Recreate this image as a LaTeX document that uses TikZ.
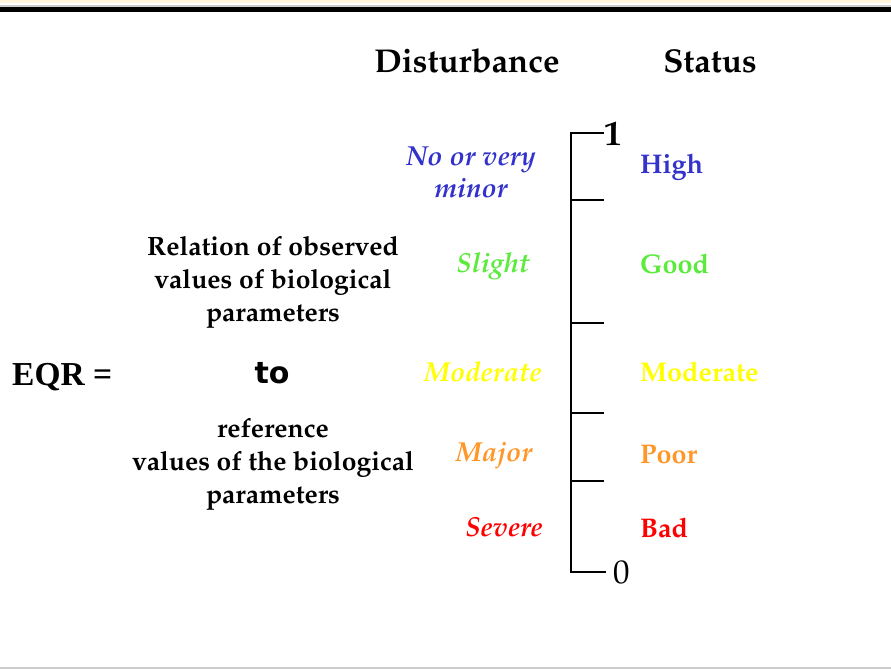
\documentclass[tikz,border=0pt]{standalone}
\usepackage[T1,TU]{fontenc}
\usepackage{fontspec}
\newfontfamily\timesbold{Liberation Serif}[BoldFont={* Bold}]
\newfontfamily\verdanaish{DejaVu Sans}
\newcommand\pala{\fontencoding{T1}\fontfamily{ppl}\selectfont}
\definecolor{cblue}{RGB}{51,51,204}
\definecolor{cgreen}{RGB}{90,235,60}
\definecolor{cyellow}{RGB}{255,255,0}
\definecolor{corange}{RGB}{255,150,40}
\definecolor{cred}{RGB}{255,0,0}
\definecolor{cream}{RGB}{255,244,218}
\tikzset{
  head/.style={inner sep=0pt, anchor=base, font=\pala\bfseries\fontsize{33}{36}\selectfont},
  dist/.style={inner sep=0pt, anchor=base, align=center, font=\pala\bfseries\itshape\fontsize{27.5}{32}\selectfont},
  stat/.style={inner sep=0pt, anchor=base west, font=\pala\bfseries\fontsize{27}{30}\selectfont},
  ratio/.style={inner sep=0pt, anchor=base, align=center, font=\pala\bfseries\fontsize{26.5}{33}\selectfont},
  axisline/.style={line width=2.6pt, line cap=rect},
  tickline/.style={line width=2.2pt},
}
\begin{document}
\begin{tikzpicture}[x=1pt, y=-1pt]
\useasboundingbox (0,0) rectangle (891,669);
% frame strips
\fill[cream] (0,0) rectangle (891,3);
\fill[gray!40] (0,5.5) rectangle (891,7);
\fill[black] (0,7) rectangle (891,12.5);
\fill[gray!40] (0,666.5) rectangle (891,669);

% column headings
\node[head] (hdist) at (467,72) {Disturbance};
\node[head] (hstat) at (710,72) {Status};

% scale
\coordinate (top) at (571,133);
\coordinate (bot) at (571,572);
\draw[axisline] (603,133) -- (top) -- (bot) -- (605,572);
\draw[line width=1.3pt] (571,200) -- (604,200);
\draw[tickline] (571,323) -- (604,323);
\draw[tickline] (571,413) -- (604,413);
\draw[tickline] (571,481) -- (604,481);
\node[inner sep=0pt, anchor=base west, font=\pala\bfseries\fontsize{35}{36}\selectfont] (one) at (604,145) {1};
\node[inner sep=0pt, anchor=base west, font=\pala\fontsize{33}{36}\selectfont] (zero) at (613,583) {0};

% disturbance classes (base = last line)
\node[dist, text=cblue] (d1) at (471,197) {No or very\\minor};
\node[dist, text=cgreen] (d2) at (493,272) {Slight};
\node[dist, text=cyellow] (d3) at (483,381) {Moderate};
\node[dist, text=corange] (d4) at (494,461) {Major};
\node[dist, text=cred] (d5) at (504,536) {Severe};

% status classes
\node[stat, text=cblue] (s1) at (640,173) {High};
\node[stat, text=cgreen] (s2) at (640,273) {Good};
\node[stat, text=cyellow] (s3) at (640,381) {Moderate};
\node[stat, text=corange] (s4) at (640,463) {Poor};
\node[stat, text=cred] (s5) at (640,537) {Bad};

% ratio definition (base = last line)
\node[inner sep=0pt, anchor=base west, font=\timesbold\bfseries\fontsize{33.5}{36}\selectfont] (eqr) at (12,385) {EQR =};
\node[ratio] (num) at (273,321) {Relation of observed\\values of biological\\parameters};
\node[inner sep=0pt, anchor=base, font=\verdanaish\bfseries\fontsize{30}{32}\selectfont] (to) at (272,383) {to};
\node[ratio] (den) at (273,503) {reference\\values of the biological\\parameters};
\end{tikzpicture}
\end{document}
